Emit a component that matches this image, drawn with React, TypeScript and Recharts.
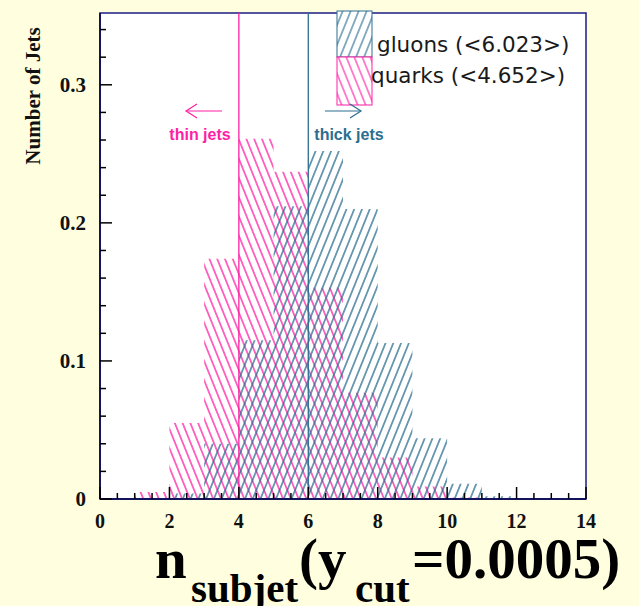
import { ComposedChart, Area, XAxis, YAxis, CartesianGrid, ReferenceLine, ReferenceArea } from 'recharts';

// bin lower edges of n_subjet and normalised jet fractions per bin
const nSubjet = [0, 1, 2, 3, 4, 5, 6, 7, 8, 9, 10, 11, 12, 13, 14];
const quarks = [0, 0.005, 0.055, 0.174, 0.261, 0.237, 0.153, 0.077, 0.03, 0.009, 0.001, 0, 0, 0, 0];
const gluons = [0, 0, 0.004, 0.04, 0.115, 0.212, 0.252, 0.21, 0.113, 0.044, 0.011, 0.002, 0, 0, 0];

const xTicks = [0, 0.5, 1, 1.5, 2, 2.5, 3, 3.5, 4, 4.5, 5, 5.5, 6, 6.5, 7, 7.5, 8, 8.5, 9, 9.5, 10, 10.5, 11, 11.5, 12, 12.5, 13, 13.5, 14];
const xLabels = [0, 2, 4, 6, 8, 10, 12, 14];
const yTicks = [0, 0.02, 0.04, 0.06, 0.08, 0.1, 0.12, 0.14, 0.16, 0.18, 0.2, 0.22, 0.24, 0.26, 0.28, 0.3, 0.32, 0.34];
const yLabels = [0, 0.1, 0.2, 0.3];

const cuts = { thin: 4, thick: 6 };

const data = nSubjet.map((n, i) => ({ n, quarks: quarks[i], gluons: gluons[i] }));

const PINK = '#ff1fa5';
const BLUE = '#2b6e90';
const FRAME = '#1c1c86';
const BG = '#ffffe0';
const SERIF = '"Liberation Serif", "Times New Roman", serif';

function YTick({ x, y, payload }: any) {
  const v = payload.value;
  const major = yLabels.includes(v);
  return (
    <g>
      <line x1={x} x2={x + (major ? 12 : 6)} y1={y} y2={y} stroke="#000" strokeWidth={1.5} />
      {major && (
        <text x={x - 14} y={y} dy={7} textAnchor="end" fontFamily={SERIF} fontWeight="bold" fontSize={21} fill="#111">
          {v}
        </text>
      )}
    </g>
  );
}

function XTick({ x, y, payload }: any) {
  const v = payload.value;
  const major = xLabels.includes(v);
  return (
    <g>
      <line x1={x} x2={x} y1={y} y2={y - (major ? 12 : 6)} stroke="#000" strokeWidth={1.5} />
      {major && (
        <text x={x} y={y + 29} textAnchor="middle" fontFamily={SERIF} fontWeight="bold" fontSize={20} fill="#111">
          {v}
        </text>
      )}
    </g>
  );
}

function Annotations() {
  return (
    <svg width={639} height={606} style={{ position: 'absolute', left: 0, top: 0, pointerEvents: 'none' }}>
      <defs>
        <pattern id="legG" patternUnits="userSpaceOnUse" width={7.4} height={10} patternTransform="rotate(22)">
          <line x1={3.7} y1={0} x2={3.7} y2={10} stroke={BLUE} strokeWidth={1.1} />
        </pattern>
        <pattern id="legQ" patternUnits="userSpaceOnUse" width={7.4} height={10} patternTransform="rotate(-22)">
          <line x1={3.7} y1={0} x2={3.7} y2={10} stroke={PINK} strokeWidth={1.1} />
        </pattern>
      </defs>

      {/* legend */}
      <rect x={337} y={11} width={35} height={46} fill="#fff" />
      <rect x={337} y={11} width={35} height={46} fill="url(#legG)" stroke={BLUE} strokeWidth={1} />
      <rect x={337} y={57} width={35} height={48} fill="#fff" />
      <rect x={337} y={57} width={35} height={48} fill="url(#legQ)" stroke={PINK} strokeWidth={1} />
      <text x={377} y={52} fontFamily='"DejaVu Sans", sans-serif' fontSize={21.5} fill="#1a1a1a">gluons (&lt;6.023&gt;)</text>
      <text x={371} y={83} fontFamily='"DejaVu Sans", sans-serif' fontSize={21.5} fill="#1a1a1a">quarks (&lt;4.652&gt;)</text>

      {/* thin / thick jet arrows */}
      <g stroke={PINK} strokeWidth={1.2} fill="none">
        <line x1={186} y1={111} x2={222} y2={111} />
        <polyline points="197,104 186,111 197,118" />
      </g>
      <text x={200} y={140} textAnchor="middle" fontFamily='"Liberation Sans", sans-serif' fontWeight="bold" fontSize={16} fill={PINK}>thin jets</text>
      <g stroke={BLUE} strokeWidth={1.2} fill="none">
        <line x1={325} y1={111} x2={361} y2={111} />
        <polyline points="350,104 361,111 350,118" />
      </g>
      <text x={349} y={140} textAnchor="middle" fontFamily='"Liberation Sans", sans-serif' fontWeight="bold" fontSize={16} fill={BLUE}>thick jets</text>

      {/* axis titles */}
      <text transform="translate(40,96) rotate(-90)" textAnchor="middle" fontFamily={SERIF} fontWeight="bold" fontSize={21} fill="#111">
        Number of Jets
      </text>
      <g fontFamily={SERIF} fontWeight="bold" fill="#000">
        <text x={155} y={578} fontSize={57}>n</text>
        <text x={191} y={602} fontSize={41}>subjet</text>
        <text x={299} y={578} fontSize={57}>(y</text>
        <text x={355} y={602} fontSize={41}>cut</text>
        <text x={412} y={578} fontSize={57}>=0.0005)</text>
      </g>
    </svg>
  );
}

export default function App() {
  return (
    <div style={{ position: 'relative', width: 639, height: 606, background: BG, overflow: 'hidden' }}>
      <style>{`body{margin:0;background:${BG};}`}</style>
      <ComposedChart width={639} height={606} data={data} margin={{ top: 13, right: 53, bottom: 0, left: 0 }}>
        <defs>
          <pattern id="hatchGluons" patternUnits="userSpaceOnUse" width={7.2} height={10} patternTransform="rotate(22)">
            <line x1={3.6} y1={0} x2={3.6} y2={10} stroke={BLUE} strokeWidth={1.3} />
          </pattern>
          <pattern id="hatchQuarks" patternUnits="userSpaceOnUse" width={7.2} height={10} patternTransform="rotate(-22)">
            <line x1={3.6} y1={0} x2={3.6} y2={10} stroke={PINK} strokeWidth={1.3} />
          </pattern>
        </defs>
        <CartesianGrid horizontal={false} vertical={false} fill="#ffffff" />
        <XAxis
          dataKey="n"
          type="number"
          domain={[0, 14]}
          ticks={xTicks}
          interval={0}
          height={107}
          tickSize={0}
          tickMargin={0}
          tickLine={false}
          axisLine={{ stroke: '#14145e', strokeWidth: 2 }}
          tick={<XTick />}
        />
        <YAxis
          type="number"
          domain={[0, 0.352]}
          ticks={yTicks}
          interval={0}
          width={100}
          tickSize={0}
          tickMargin={0}
          tickLine={false}
          axisLine={{ stroke: '#14145e', strokeWidth: 2 }}
          tick={<YTick />}
        />
        <Area type="stepAfter" dataKey="quarks" stroke="none" fill="url(#hatchQuarks)" fillOpacity={1} isAnimationActive={false} dot={false} activeDot={false} />
        <Area type="stepAfter" dataKey="gluons" stroke="none" fill="url(#hatchGluons)" fillOpacity={1} isAnimationActive={false} dot={false} activeDot={false} />
        <ReferenceLine x={cuts.thin} stroke={PINK} strokeWidth={1.3} />
        <ReferenceLine x={cuts.thick} stroke={BLUE} strokeWidth={1.3} />
        <ReferenceArea x1={0} x2={14} y1={0} y2={0.352} fill="none" stroke={FRAME} strokeWidth={1.5} />
      </ComposedChart>
      <Annotations />
    </div>
  );
}
